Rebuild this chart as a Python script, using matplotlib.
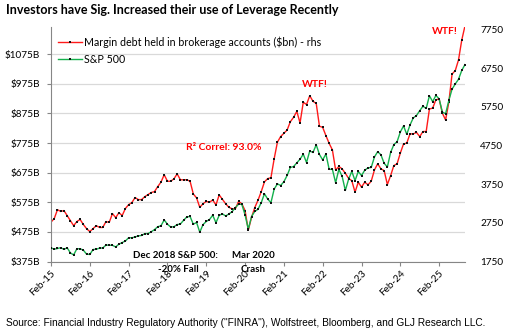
import numpy as np
import matplotlib
matplotlib.use('Agg')
import matplotlib.pyplot as plt
from matplotlib.lines import Line2D

# monthly data, Feb-2015 .. Oct-2025
margin_debt = [508, 520, 550, 544, 547, 530, 513, 496, 510, 517, 500, 486,
               476, 486, 496, 490, 490, 510, 507, 537, 523, 540, 530, 554,
               567, 574, 591, 584, 584, 594, 601, 608, 611, 628,
               643, 668, 646, 646, 654, 671, 651, 651, 651, 646, 603, 590, 558,
               570, 578, 575, 583, 566, 600, 585, 570, 558, 553, 553, 578, 570, 547,
               481, 524, 557, 582, 611, 644, 655, 658, 722, 778,
               797, 808, 819, 847, 862, 882, 843, 913, 905, 935, 916, 909,
               832, 828, 800, 774, 752, 684, 696, 688, 673, 656, 648, 609,
               643, 626, 643, 634, 646, 684, 705, 688, 682, 635, 665, 699,
               705, 741, 772, 775, 806, 806, 811, 797, 814, 814, 890, 893,
               921, 924, 876, 853, 913, 1008, 1020, 1056, 1123, 1171]

sp500 = [2104, 2068, 2086, 2107, 2063, 2104, 1972, 1920, 2079, 2080, 2044,
         1940, 1932, 2060, 2065, 2097, 2099, 2174, 2171, 2168, 2126, 2199, 2239,
         2279, 2364, 2363, 2384, 2412, 2423, 2470, 2472, 2519, 2575, 2648, 2674,
         2824, 2714, 2641, 2648, 2705, 2718, 2816, 2902, 2914, 2712, 2760, 2507,
         2704, 2784, 2834, 2946, 2752, 2942, 2980, 2926, 2977, 3038, 3141, 3231,
         3226, 2954, 2585, 2912, 3044, 3100, 3271, 3500, 3363, 3270, 3622, 3756,
         3714, 3811, 3973, 4181, 4204, 4298, 4395, 4523, 4308, 4605, 4567, 4766,
         4516, 4374, 4530, 4132, 4132, 3785, 4130, 3955, 3586, 3872, 4080, 3840,
         4077, 3970, 4109, 4169, 4180, 4450, 4589, 4508, 4288, 4194, 4568, 4770,
         4846, 5096, 5254, 5036, 5278, 5460, 5522, 5648, 5762, 5705, 6032, 5882,
         6041, 5955, 5612, 5569, 5912, 6205, 6339, 6460, 6688, 6840]

tick_labels = ['Feb-15', 'Feb-16', 'Feb-17', 'Feb-18', 'Feb-19', 'Feb-20',
               'Feb-21', 'Feb-22', 'Feb-23', 'Feb-24', 'Feb-25']
left_ticks = [375, 475, 575, 675, 775, 875, 975, 1075]
right_ticks = [1750, 2750, 3750, 4750, 5750, 6750, 7750]

plt.rcParams['font.family'] = ['Lato', 'DejaVu Sans']

W, H = 508, 334
fig = plt.figure(figsize=(W / 100, H / 100), dpi=100)


def fx(px):
    return px / W


def fy(py):
    return 1 - py / H


ax = fig.add_axes([fx(51), fy(261.5), fx(465) - fx(51), fy(27) - fy(261.5)])
x = np.arange(len(margin_debt))
red = '#ff1a1a'
green = '#14b04c'
mk = dict(marker='s', ms=1.7, mew=0, mfc='#111111')
ax.plot(x, margin_debt, color=red, lw=1, **mk)
ax2 = ax.twinx()
ax2.plot(x, sp500, color=green, lw=1, **mk)

ax.set_xlim(0, 128)
ax.set_ylim(375, 1167)
ax2.set_ylim(1750, 7810)

ax.set_yticks(left_ticks)
ax.set_yticklabels(['$%dB' % v for v in left_ticks])
ax2.set_yticks(right_ticks)
ax2.set_yticklabels([str(v) for v in right_ticks])
ax.set_xticks(np.arange(0, 121, 12))
ax.set_xticklabels(tick_labels, rotation=45, ha='right', va='top',
                   rotation_mode='anchor')

ax.grid(axis='y', color='#d9d9d9', lw=0.9)
ax.set_axisbelow(True)
for s in ['top', 'right']:
    ax.spines[s].set_visible(False)
for s in ax2.spines.values():
    s.set_visible(False)
ax.spines['left'].set_color('#868686')
ax.spines['bottom'].set_color('#868686')
ax.tick_params(axis='y', length=3, color='#868686', labelsize=7.2, pad=5)
ax.tick_params(axis='x', length=3, color='#868686', labelsize=7.2, pad=2)
ax2.tick_params(axis='y', length=0, labelsize=7.2, pad=11)

handles = [Line2D([], [], color=red, lw=1, **mk),
           Line2D([], [], color=green, lw=1, **mk)]
fig.legend(handles, ['Margin debt held in brokerage accounts ($bn) - rhs', 'S&P 500'],
           loc='upper left', bbox_to_anchor=(fx(58), fy(36)), frameon=False,
           fontsize=7.7, handlelength=2.2, handletextpad=0.25, labelspacing=0.6,
           borderpad=0, borderaxespad=0)

fig.text(fx(6), fy(10), 'Investors have Sig. Increased their use of Leverage Recently',
         fontsize=9, fontweight='bold', va='center', ha='left')
fig.text(fx(224), fy(148), 'R\u00b2 Correl: 93.0%', color='red', fontsize=7.5,
         fontweight='bold', ha='center', va='center')
fig.text(fx(315), fy(85), 'WTF!', color='red', fontsize=7.5,
         fontweight='bold', ha='center', va='center')
fig.text(fx(445), fy(32), 'WTF!', color='red', fontsize=7.5,
         fontweight='bold', ha='center', va='center')
fig.text(fx(175), fy(255), 'Dec 2018 S&P 500:', fontsize=7, fontweight='bold',
         ha='center', va='center')
fig.text(fx(178), fy(270), '-20% Fall', fontsize=7, fontweight='bold',
         ha='center', va='center')
fig.text(fx(253), fy(255), 'Mar 2020', fontsize=7, fontweight='bold',
         ha='center', va='center')
fig.text(fx(253), fy(270), 'Crash', fontsize=7, fontweight='bold',
         ha='center', va='center')
fig.text(fx(6), fy(323), 'Source: Financial Industry Regulatory Authority ("FINRA"), '
         'Wolfstreet, Bloomberg, and GLJ Research LLC.',
         fontsize=7.3, family=['Liberation Sans', 'DejaVu Sans'],
         ha='left', va='center')

fig.savefig('out.png', dpi=100)
